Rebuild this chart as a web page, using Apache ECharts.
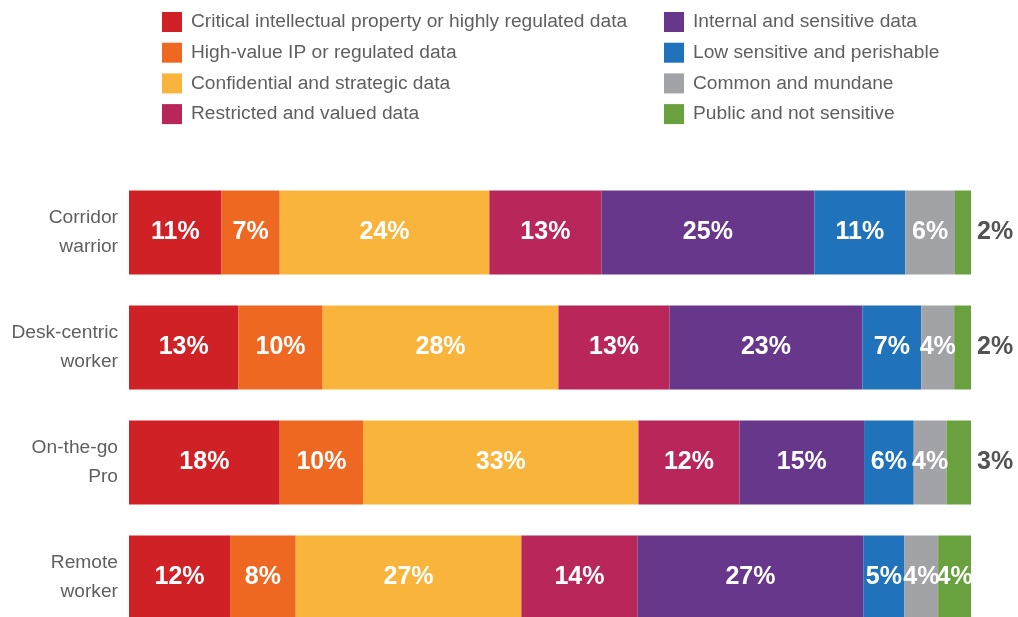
<!DOCTYPE html>
<html>
<head>
<meta charset="utf-8">
<script src="https://cdn.jsdelivr.net/npm/echarts@6/dist/echarts.min.js"></script>
<style>
  html, body { margin: 0; padding: 0; background: #fff; }
  #chart { width: 1018px; height: 617px; }
</style>
</head>
<body>
<div id="chart"></div>
<script>
// categories, top to bottom
const categories = ['Corridor\nwarrior', 'Desk-centric\nworker', 'On-the-go\nPro', 'Remote\nworker'];

// series names (legend order)
const seriesNames = [
  'Critical intellectual property or highly regulated data',
  'High-value IP or regulated data',
  'Confidential and strategic data',
  'Restricted and valued data',
  'Internal and sensitive data',
  'Low sensitive and perishable',
  'Common and mundane',
  'Public and not sensitive'
];

// bar lengths (share of each row)
const criticalData = [11.0, 13.0, 17.9, 12.0];
const highValueData = [6.9, 10.0, 9.9, 7.8];
const confidentialData = [24.9, 28.0, 32.7, 26.8];
const restrictedData = [13.3, 13.2, 12.0, 13.8];
const internalData = [25.3, 22.9, 14.8, 26.8];
const lowSensitiveData = [10.8, 7.0, 5.9, 4.9];
const commonData = [5.9, 3.9, 3.9, 4.0];
const publicData = [1.9, 2.0, 2.9, 3.9];

// printed percentages
const criticalLabels = [11, 13, 18, 12];
const highValueLabels = [7, 10, 10, 8];
const confidentialLabels = [24, 28, 33, 27];
const restrictedLabels = [13, 13, 12, 14];
const internalLabels = [25, 23, 15, 27];
const lowSensitiveLabels = [11, 7, 6, 5];
const commonLabels = [6, 4, 4, 4];
const publicLabels = [2, 2, 3, 4];

const colors = ['#D02127', '#EF6822', '#F9B43B', '#B8265A', '#67378B', '#2073BA', '#A2A3A6', '#6AA13F'];

const allData = [criticalData, highValueData, confidentialData, restrictedData,
  internalData, lowSensitiveData, commonData, publicData];
const allLabels = [criticalLabels, highValueLabels, confidentialLabels, restrictedLabels,
  internalLabels, lowSensitiveLabels, commonLabels, publicLabels];

const textFont = '"Liberation Sans", Arial, sans-serif';
const textGray = '#5f5f5f';

const chart = echarts.init(document.getElementById('chart'));

const series = allData.map((values, s) => {
  const labels = allLabels[s];
  const isLast = s === allData.length - 1;
  return {
    name: seriesNames[s],
    type: 'bar',
    stack: 'total',
    barWidth: 84,
    itemStyle: { color: colors[s] },
    label: {
      show: true,
      position: 'inside',
      color: '#fff',
      fontFamily: textFont,
      fontWeight: 'bold',
      fontSize: 25,
      formatter: (p) => labels[p.dataIndex] + '%'
    },
    data: values.map((v) => {
      // thin last segment: label goes outside, in gray
      if (isLast && v < 3.5) {
        return { value: v, label: { position: 'right', distance: 6, color: '#535353' } };
      }
      return v;
    })
  };
});

const legendBase = {
  orient: 'vertical',
  top: 12,
  padding: 0,
  icon: 'rect',
  itemWidth: 20,
  itemHeight: 20,
  itemGap: 10.7,
  selectedMode: false,
  textStyle: {
    fontFamily: textFont,
    fontSize: 19.2,
    lineHeight: 20,
    color: textGray,
    padding: [0, 0, 0, 4]
  }
};

chart.setOption({
  animation: false,
  legend: [
    Object.assign({}, legendBase, { left: 162, data: seriesNames.slice(0, 4) }),
    Object.assign({}, legendBase, { left: 664, data: seriesNames.slice(4) })
  ],
  grid: {
    left: 129,
    right: 47,
    top: 175,
    height: 460,
    containLabel: false,
    outerBoundsMode: 'none'
  },
  xAxis: {
    type: 'value',
    min: 0,
    max: 100,
    show: false
  },
  yAxis: {
    type: 'category',
    inverse: true,
    data: categories,
    axisLine: { show: false },
    axisTick: { show: false },
    axisLabel: {
      margin: 11,
      fontFamily: textFont,
      fontSize: 19.2,
      lineHeight: 29,
      color: textGray,
      align: 'right'
    }
  },
  series: series
});
</script>
</body>
</html>
